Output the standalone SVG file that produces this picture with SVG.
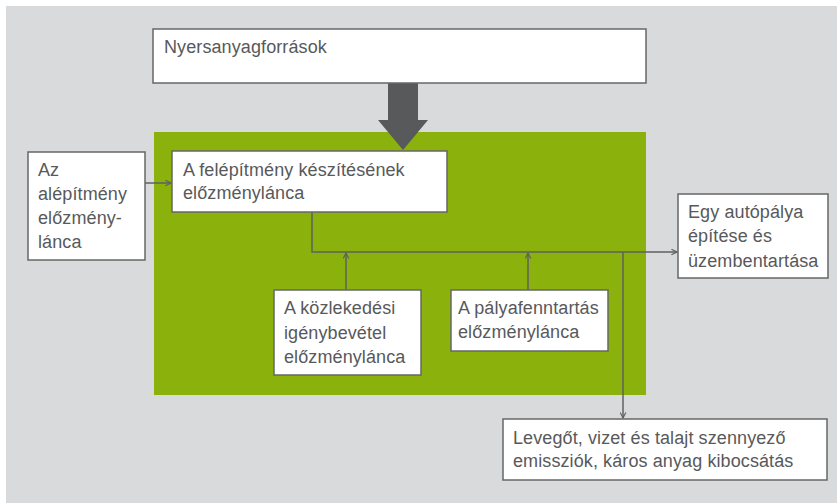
<svg xmlns="http://www.w3.org/2000/svg" width="837" height="503" viewBox="0 0 837 503">
<defs>
<style>
.box{fill:#fff;stroke:#666767;stroke-width:1.5}
.t{font-family:"Liberation Sans",Arial,sans-serif;font-size:18px;letter-spacing:0.1px;fill:#58595b}
.ln{fill:none;stroke:#5f6060;stroke-width:1.5}
</style>
<marker id="ah" viewBox="0 0 10 10" refX="9" refY="5" markerWidth="7" markerHeight="7" markerUnits="userSpaceOnUse" orient="auto">
<path d="M1,1 L9,5 L1,9" fill="none" stroke="#5f6060" stroke-width="1.6"/>
</marker>
</defs>
<rect x="0" y="0" width="837" height="503" fill="#fff"/>
<rect x="6" y="6" width="831" height="497" fill="#d9dadb"/>
<rect id="green" x="154" y="132" width="492" height="263" fill="#8ab10c"/>
<g id="connectors">
<polygon points="388,83 418,83 418,120 428,120 403,150 378,120 388,120" fill="#58595b"/>
<line class="ln" x1="145" y1="183" x2="171" y2="183" marker-end="url(#ah)"/>
<polyline class="ln" points="312,212 312,252 677,252" marker-end="url(#ah)"/>
<line class="ln" x1="346" y1="290" x2="346" y2="253" marker-end="url(#ah)"/>
<line class="ln" x1="528" y1="290" x2="528" y2="253" marker-end="url(#ah)"/>
<line class="ln" x1="623" y1="252" x2="623" y2="418" marker-end="url(#ah)"/>
</g>
<g id="n1">
<rect class="box" x="153" y="29" width="493" height="54"/>
<text class="t" x="164" y="53">Nyersanyagforrások</text>
</g>
<g id="n2">
<rect class="box" x="172" y="151" width="275" height="61"/>
<text class="t" x="183" y="176">A felépítmény készítésének</text>
<text class="t" x="183" y="199">előzménylánca</text>
</g>
<g id="n3">
<rect class="box" x="28" y="152" width="117" height="108"/>
<text class="t" x="38" y="176">Az</text>
<text class="t" x="38" y="200">alépítmény</text>
<text class="t" x="38" y="224">előzmény-</text>
<text class="t" x="38" y="248">lánca</text>
</g>
<g id="n4">
<rect class="box" x="274" y="290" width="147" height="85"/>
<text class="t" x="284" y="314">A közlekedési</text>
<text class="t" x="284" y="339">igénybevétel</text>
<text class="t" x="284" y="363">előzménylánca</text>
</g>
<g id="n5">
<rect class="box" x="451" y="290" width="157" height="61"/>
<text class="t" x="458" y="314">A pályafenntartás</text>
<text class="t" x="458" y="338">előzménylánca</text>
</g>
<g id="n6">
<rect class="box" x="678" y="194" width="150" height="84"/>
<text class="t" x="688" y="218">Egy autópálya</text>
<text class="t" x="688" y="242">építése és</text>
<text class="t" x="688" y="267">üzembentartása</text>
</g>
<g id="n7">
<rect class="box" x="503" y="419" width="324" height="61"/>
<text class="t" x="513" y="444">Levegőt, vizet és talajt szennyező</text>
<text class="t" x="513" y="467">emissziók, káros anyag kibocsátás</text>
</g>
</svg>
